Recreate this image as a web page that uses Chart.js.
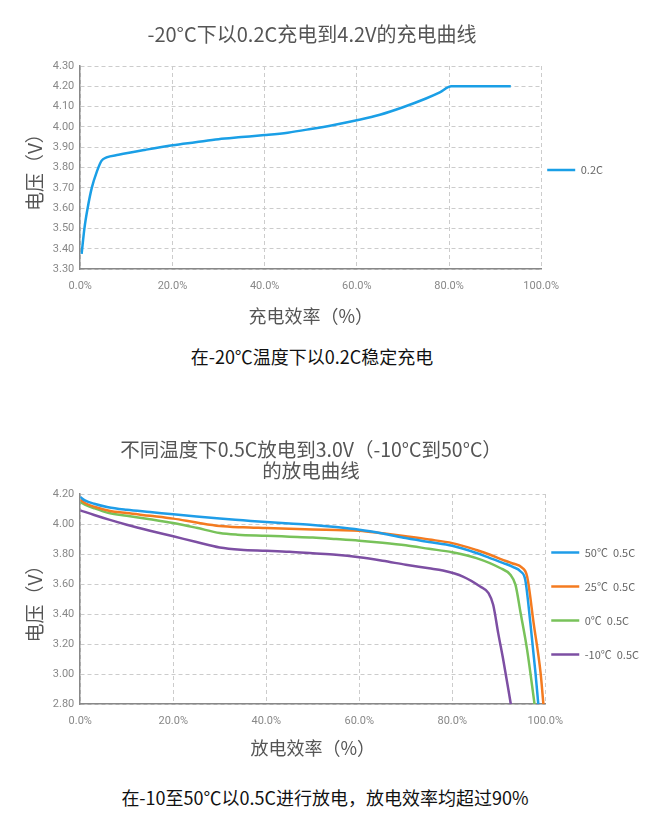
<!DOCTYPE html>
<html lang="zh-CN">
<head>
<meta charset="utf-8">
<title>充放电曲线</title>
<script src="https://cdn.jsdelivr.net/npm/chart.js@4/dist/chart.umd.min.js"></script>
<style>
  html, body { margin: 0; padding: 0; background: #fff; }
  body { width: 650px; height: 840px; position: relative; overflow: hidden; font-family: "Noto Sans CJK SC", sans-serif; }
  #chargeChart { position: absolute; left: 0; top: 0; }
  #dischargeChart { position: absolute; left: -27px; top: 425px; }
  .caption { position: absolute; left: 0; font-size: 18px; color: #111; text-align: center; line-height: 24px; }
  #cap1 { top: 344px; width: 624px; }
  #cap2 { top: 785px; width: 650px; }
</style>
</head>
<body>
<canvas id="chargeChart" width="650" height="331"></canvas>
<div class="caption" id="cap1">在-20℃温度下以0.2C稳定充电</div>
<canvas id="dischargeChart" width="677" height="338"></canvas>
<div class="caption" id="cap2">在-10至50℃以0.5C进行放电，放电效率均超过90%</div>

<script>
// charge curve, -20°C at 0.2C  (x = efficiency %, y = voltage)
const chargeX = [0.3, 0.9, 1.6, 2.5, 3.6, 4.6, 5.7, 8.3, 14, 20, 25, 30, 35, 40, 45, 50, 55, 60, 65, 70, 75, 78, 80.5, 93.4];
const chargeV = [3.375, 3.50, 3.60, 3.70, 3.78, 3.833, 3.85, 3.863, 3.887, 3.91, 3.925, 3.94, 3.95, 3.96, 3.972, 3.99, 4.01, 4.033, 4.06, 4.097, 4.14, 4.17, 4.20, 4.20];

// discharge curves at 0.5C
const d50X = [0, 1, 3, 6, 10, 15, 20, 25, 30, 35, 40, 45, 50, 55, 60, 65, 70, 75, 80, 85.2, 88, 91, 93, 94.7, 95.7, 96.8, 97.9, 98.5];
const d50V = [4.18, 4.158, 4.135, 4.112, 4.095, 4.08, 4.065, 4.05, 4.037, 4.025, 4.013, 4.003, 3.994, 3.98, 3.962, 3.937, 3.907, 3.88, 3.855, 3.807, 3.775, 3.74, 3.715, 3.684, 3.628, 3.34, 3.007, 2.80];

const d25X = [0, 1, 3, 6.2, 10, 15, 20, 25, 30, 35, 40, 45, 50, 55, 60, 65, 70, 75, 80, 85.2, 88, 91, 93, 95, 96.1, 97.5, 99, 99.6];
const d25V = [4.162, 4.14, 4.115, 4.089, 4.073, 4.055, 4.036, 4.01, 3.987, 3.978, 3.973, 3.968, 3.963, 3.96, 3.956, 3.938, 3.918, 3.897, 3.873, 3.827, 3.797, 3.76, 3.737, 3.71, 3.65, 3.34, 3.007, 2.80];

const d0X = [0, 1, 3, 6.2, 10, 15, 20, 25, 30, 33.8, 40, 45, 50, 55, 60, 65, 70, 75, 80, 85.2, 90.3, 92.5, 93.6, 94.7, 96.1, 97.7];
const d0V = [4.147, 4.13, 4.105, 4.073, 4.055, 4.032, 4.007, 3.975, 3.94, 3.929, 3.922, 3.916, 3.91, 3.90, 3.889, 3.875, 3.858, 3.835, 3.812, 3.773, 3.707, 3.662, 3.595, 3.407, 3.162, 2.80];

const dm10X = [0, 3, 6.2, 10, 15, 20, 25, 30, 34.5, 40, 45, 50, 55, 60, 65, 70, 75, 78, 82.3, 86, 87.8, 88.8, 89.9, 91, 92.6];
const dm10V = [4.091, 4.06, 4.029, 3.995, 3.955, 3.918, 3.88, 3.844, 3.829, 3.822, 3.815, 3.805, 3.795, 3.778, 3.755, 3.729, 3.705, 3.69, 3.65, 3.584, 3.54, 3.462, 3.27, 3.09, 2.80];

const dischargeLabels = ["50℃  0.5C", "25℃  0.5C", "0℃  0.5C", "-10℃  0.5C"];
const dischargeColors = ["#1f9de8", "#f47b20", "#78c25a", "#7d4fa3"];

const CJK = '"Noto Sans CJK SC", sans-serif';
const toPoints = (xs, ys) => xs.map((x, i) => ({ x: x, y: ys[i] }));

function lineSet(label, xs, ys, color) {
  return {
    label: label,
    data: toPoints(xs, ys),
    borderColor: color,
    backgroundColor: color,
    borderWidth: 2.5,
    pointRadius: 0,
    cubicInterpolationMode: "monotone",
    fill: false,
  };
}

function legendOpts(titleGap) {
  return {
    position: "right",
    title: { display: true, text: "", font: { size: 1, lineHeight: titleGap + "px" }, padding: 0 },
    labels: {
      usePointStyle: true,
      pointStyle: "line",
      pointStyleWidth: 28,
      padding: 6,
      color: "#666",
      font: { family: CJK, size: 11, lineHeight: "28px" },
      generateLabels: (chart) =>
        Chart.defaults.plugins.legend.labels.generateLabels(chart).map((l) => ({ ...l, text: [l.text] })),
    },
  };
}

function axes(yMin, yMax, yStep, xTitle, xTitleTop, yTitleTop) {
  return {
    x: {
      type: "linear",
      min: 0,
      max: 100,
      grid: { color: "#cccccc", drawTicks: false },
      border: { display: true, color: "#888", width: 1.5, dash: [4, 3] },
      ticks: {
        stepSize: 20,
        padding: 10,
        maxRotation: 0,
        color: "#888",
        font: { family: "Roboto", size: 11 },
        callback: (v) => v.toFixed(1) + "%",
      },
      title: {
        display: true,
        text: xTitle,
        color: "#555",
        font: { family: CJK, size: 18 },
        padding: { top: xTitleTop, bottom: 4 },
      },
    },
    y: {
      min: yMin,
      max: yMax,
      grid: { color: "#cccccc", drawTicks: false },
      border: { display: true, color: "#888", width: 1.5, dash: [4, 3] },
      ticks: {
        stepSize: yStep,
        padding: 6,
        color: "#888",
        font: { family: "Roboto", size: 11 },
        callback: (v) => v.toFixed(2),
      },
      title: {
        display: true,
        text: "电压（V）",
        color: "#555",
        font: { family: CJK, size: 19 },
        padding: { top: yTitleTop, bottom: 1 },
      },
    },
  };
}

// Charge chart
new Chart(document.getElementById("chargeChart"), {
  type: "line",
  data: {
    datasets: [lineSet("0.2C", chargeX, chargeV, "#1a9fe6")],
  },
  options: {
    responsive: false,
    animation: false,
    layout: { padding: { left: 11, right: 37, top: 0, bottom: 0 } },
    plugins: {
      title: {
        display: true,
        text: "-20°C下以0.2C充电到4.2V的充电曲线",
        color: "#555",
        font: { family: CJK, size: 20, weight: "normal", lineHeight: "22px" },
        padding: { top: 23, bottom: 21 },
      },
      legend: legendOpts(26),
      tooltip: { enabled: false },
    },
    scales: axes(3.3, 4.3, 0.1, "充电效率（%）", 3, 12),
  },
});

// Discharge chart
new Chart(document.getElementById("dischargeChart"), {
  type: "line",
  data: {
    datasets: [
      lineSet(dischargeLabels[0], d50X, d50V, dischargeColors[0]),
      lineSet(dischargeLabels[1], d25X, d25V, dischargeColors[1]),
      lineSet(dischargeLabels[2], d0X, d0V, dischargeColors[2]),
      lineSet(dischargeLabels[3], dm10X, dm10V, dischargeColors[3]),
    ],
  },
  options: {
    responsive: false,
    animation: false,
    layout: { padding: { left: 0, right: 1, top: 0, bottom: 0 } },
    plugins: {
      title: {
        display: true,
        text: ["不同温度下0.5C放电到3.0V（-10°C到50°C）", "的放电曲线"],
        color: "#555",
        font: { family: CJK, size: 19.5, weight: "normal", lineHeight: "21px" },
        padding: { top: 14, bottom: 13 },
      },
      legend: legendOpts(36),
      tooltip: { enabled: false },
    },
    scales: axes(2.8, 4.2, 0.2, "放电效率（%）", 0, 50),
  },
});
</script>
</body>
</html>
